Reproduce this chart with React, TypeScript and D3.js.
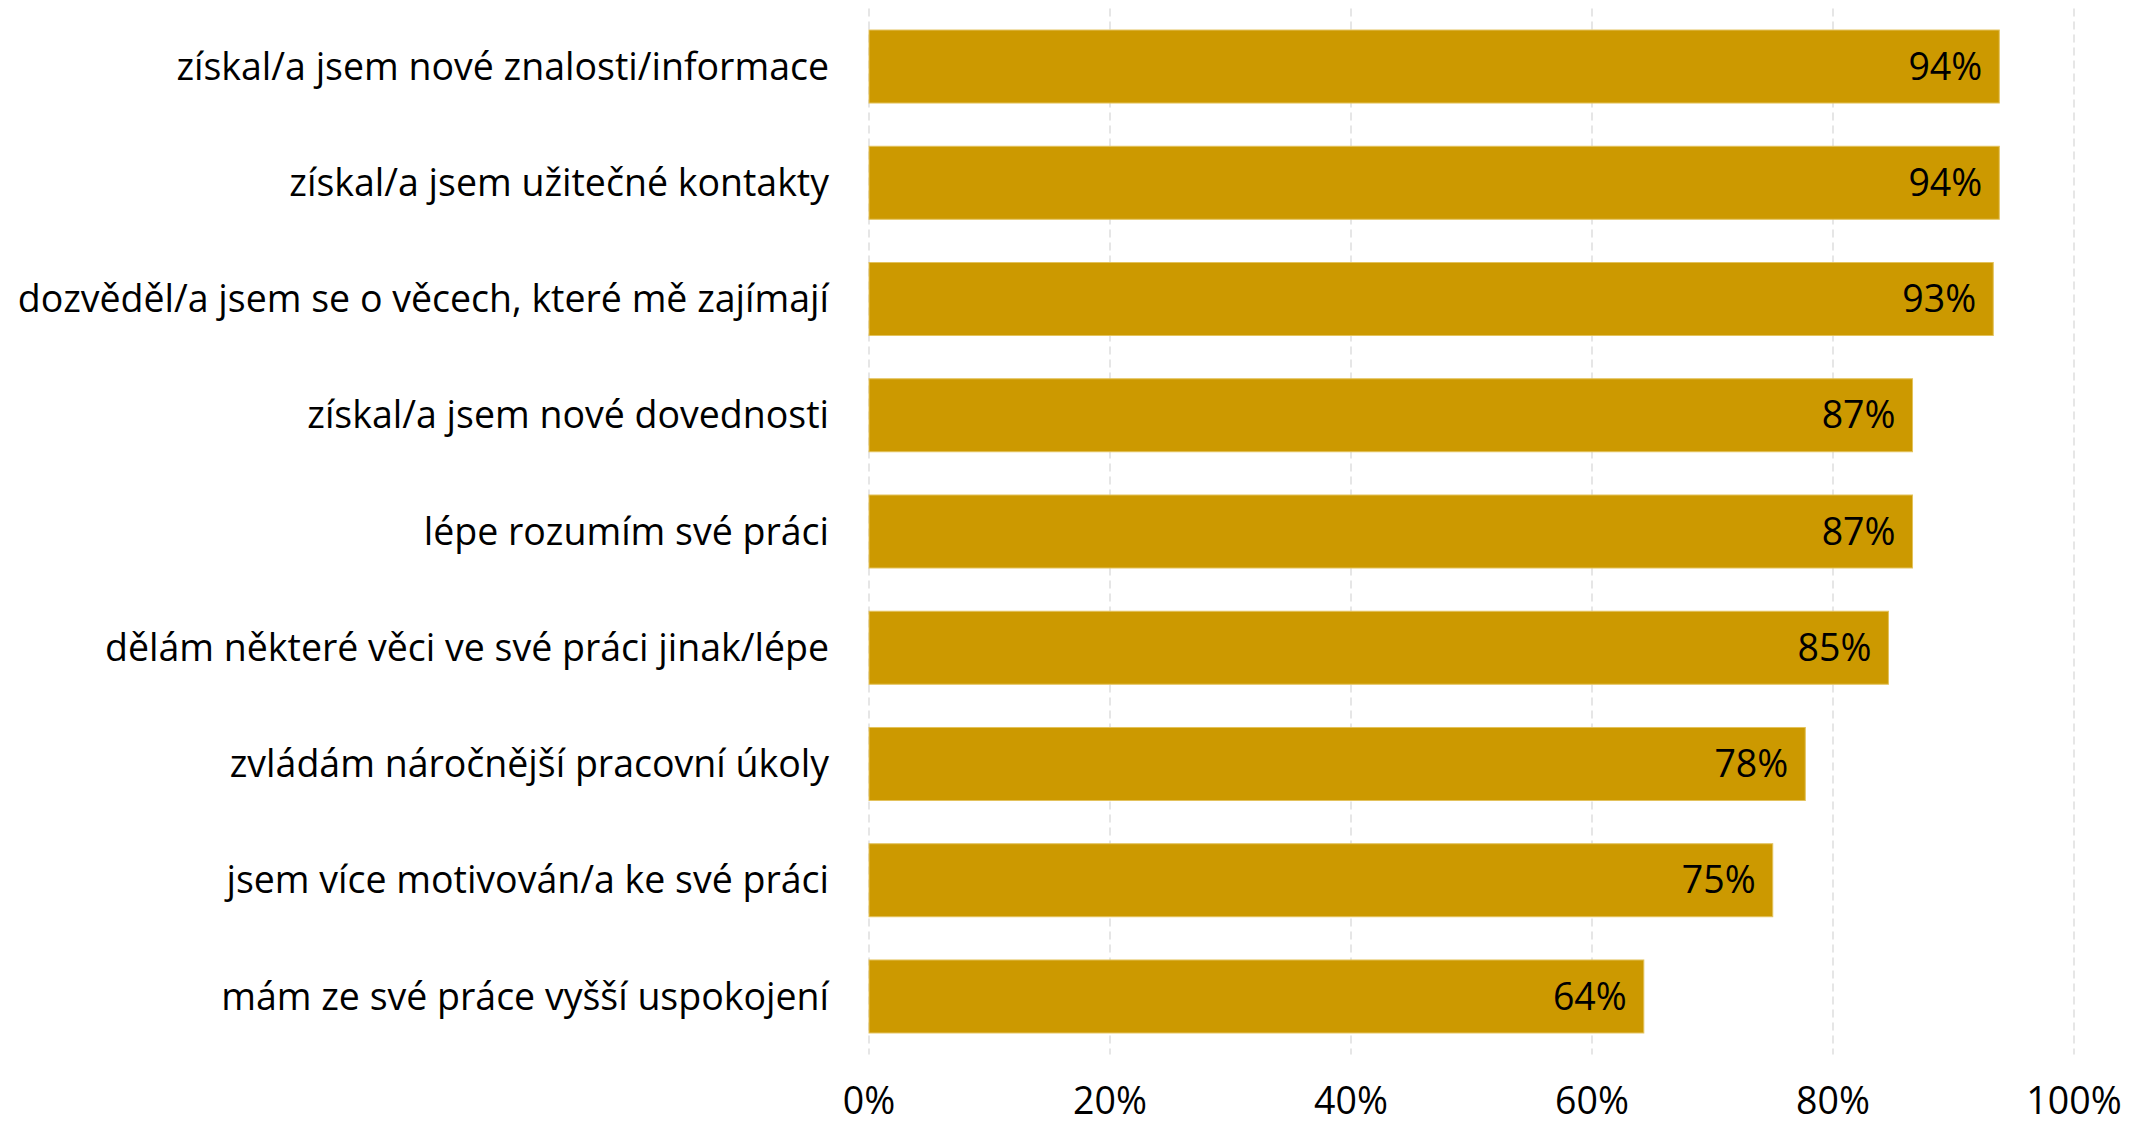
import * as d3 from 'd3';
import React, { useEffect, useRef } from 'react';

const categories = [
  'získal/a jsem nové znalosti/informace',
  'získal/a jsem užitečné kontakty',
  'dozvěděl/a jsem se o věcech, které mě zajímají',
  'získal/a jsem nové dovednosti',
  'lépe rozumím své práci',
  'dělám některé věci ve své práci jinak/lépe',
  'zvládám náročnější pracovní úkoly',
  'jsem více motivován/a ke své práci',
  'mám ze své práce vyšší uspokojení',
];
const values = [93.8, 93.8, 93.3, 86.6, 86.6, 84.6, 77.7, 75.0, 64.3];
const valueLabels = ['94%', '94%', '93%', '87%', '87%', '85%', '78%', '75%', '64%'];
const ticks = [0, 20, 40, 60, 80, 100];

const width = 2156;
const height = 1126;
const font = "'Open Sans', sans-serif";
const fontSize = '37.5px';

const BarChart = () => {
  const svgRef = useRef(null);

  useEffect(() => {
    document.body.style.margin = '0';
    const svg = d3.select(svgRef.current);
    svg.selectAll('*').remove();

    const x = d3.scaleLinear().domain([0, 100]).range([869, 2074]);
    const y = d3
      .scaleBand()
      .domain(categories)
      .range([8.4, 1054.6])
      .paddingInner(0.372)
      .paddingOuter(0.186);

    // gridlines
    svg
      .append('g')
      .selectAll('line')
      .data(ticks)
      .enter()
      .append('line')
      .attr('x1', (d) => x(d))
      .attr('x2', (d) => x(d))
      .attr('y1', y.range()[0])
      .attr('y2', y.range()[1])
      .style('stroke', '#e6e6e6')
      .style('stroke-width', 2)
      .style('stroke-dasharray', '8,5');

    // bars
    svg
      .append('g')
      .selectAll('rect')
      .data(values)
      .enter()
      .append('rect')
      .attr('x', x(0))
      .attr('y', (d, i) => y(categories[i]))
      .attr('width', (d) => x(d) - x(0))
      .attr('height', y.bandwidth())
      .style('fill', '#CC9900')
      .style('stroke', '#E3C25C')
      .style('stroke-width', 1);

    // value labels
    svg
      .append('g')
      .selectAll('text')
      .data(values)
      .enter()
      .append('text')
      .attr('x', (d) => x(d) - 17)
      .attr('y', (d, i) => y(categories[i]) + y.bandwidth() / 2)
      .attr('dy', '0.35em')
      .attr('text-anchor', 'end')
      .style('font-family', font)
      .style('font-size', fontSize)
      .style('fill', '#000')
      .text((d, i) => valueLabels[i]);

    // category labels
    svg
      .append('g')
      .selectAll('text')
      .data(categories)
      .enter()
      .append('text')
      .attr('x', x(0) - 40)
      .attr('y', (d) => y(d) + y.bandwidth() / 2)
      .attr('dy', '0.35em')
      .attr('text-anchor', 'end')
      .style('font-family', font)
      .style('font-size', fontSize)
      .style('fill', '#000')
      .text((d) => d);

    // x tick labels
    svg
      .append('g')
      .selectAll('text')
      .data(ticks)
      .enter()
      .append('text')
      .attr('x', (d) => x(d))
      .attr('y', 1114)
      .attr('text-anchor', 'middle')
      .style('font-family', font)
      .style('font-size', fontSize)
      .style('fill', '#000')
      .text((d) => d + '%');
  }, []);

  return <svg ref={svgRef} width={width} height={height} style={{ display: 'block' }} />;
};

export default function App() {
  return <BarChart />;
}
